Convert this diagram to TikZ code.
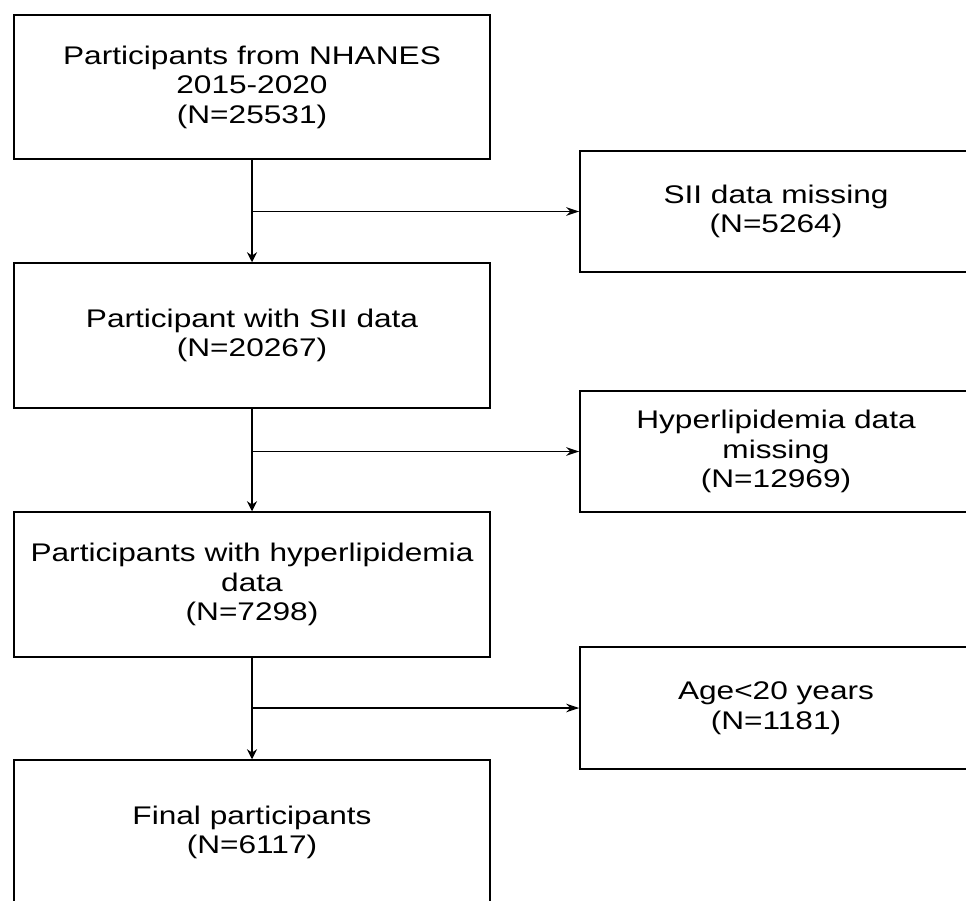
\documentclass[tikz,border=0pt]{standalone}
\usepackage{fontspec}
\setmainfont[FakeStretch=1.24]{Liberation Sans}
\usepackage{tikz}
\usetikzlibrary{arrows.meta, positioning}

\begin{document}
\begin{tikzpicture}[x=1pt, y=-1pt,
    stagebox/.style={draw, line width=1.5pt, minimum width=476pt, minimum height=145pt,
      inner sep=0pt, align=center, font=\fontsize{25.5}{29.5}\selectfont},
    dropbox/.style={draw, line width=1.5pt, minimum width=392pt, minimum height=121pt,
      inner sep=0pt, align=center, font=\fontsize{25.5}{29.5}\selectfont},
    downflow/.style={line width=1.7pt, -{Stealth[length=10pt, width=10pt]}},
    sideflow/.style={line width=1.3pt, -{Stealth[length=13pt, width=8.5pt]}}]
  \clip (0,0) rectangle (966,900);

  % Main stages
  \node[stagebox, minimum height=144pt] (nhanes) at (252, 87) {Participants from NHANES\\2015-2020\\(N=25531)};
  \node[stagebox] (withsii) at (252, 335.5) {Participant with SII data\\(N=20267)};
  \node[stagebox] (withlipid) at (252, 584.5) {Participants with hyperlipidemia\\data\\(N=7298)};
  \node[stagebox] (final) at (252, 832.5) {Final participants\\(N=6117)};

  % Exclusions
  \node[dropbox] (nosii) at (776, 211.5) {SII data missing\\(N=5264)};
  \node[dropbox] (nolipid) at (776, 451.5) {Hyperlipidemia data\\missing\\(N=12969)};
  \node[dropbox, minimum height=122pt] (young) at (776, 708) {Age<20 years\\(N=1181)};

  % Branch points
  \coordinate (split1) at (nhanes.south |- nosii);
  \coordinate (split2) at (withsii.south |- nolipid);
  \coordinate (split3) at (withlipid.south |- young);

  % Arrows
  \draw[downflow] (nhanes) -- (withsii);
  \draw[downflow] (withsii) -- (withlipid);
  \draw[downflow] (withlipid) -- (final);
  \draw[sideflow] (split1) -- (nosii);
  \draw[sideflow] (split2) -- (nolipid);
  \draw[sideflow] (split3) -- (young);
\end{tikzpicture}
\end{document}
